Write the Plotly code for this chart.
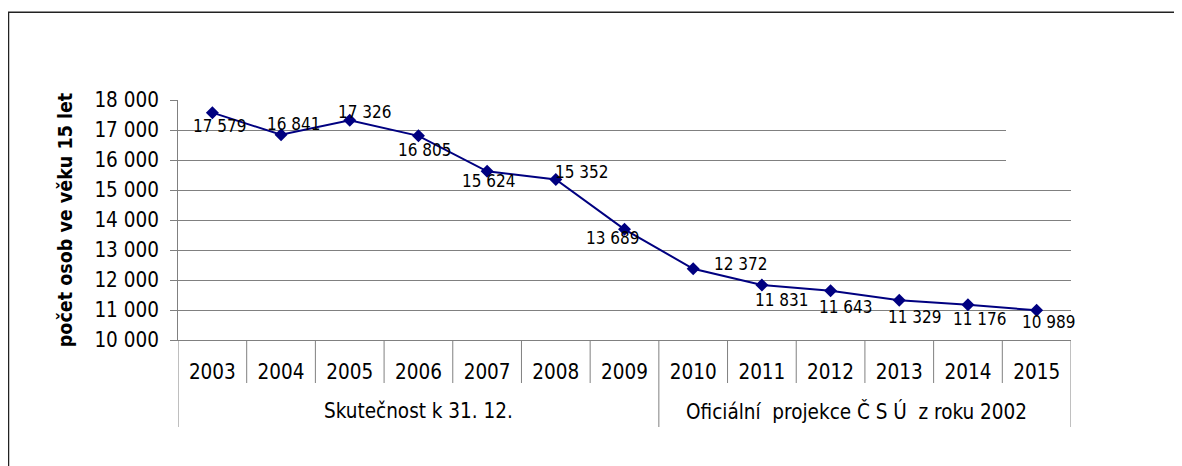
import plotly.graph_objects as go

# ---- data ----
years = ["2003", "2004", "2005", "2006", "2007", "2008", "2009",
         "2010", "2011", "2012", "2013", "2014", "2015"]
values = [17579, 16841, 17326, 16805, 15624, 15352, 13689,
          12372, 11831, 11643, 11329, 11176, 10989]
groups = ["Skutečnost k 31. 12.", "Oficiální\u00a0 projekce Č S Ú\u00a0 z roku 2002"]
group_sizes = [7, 6]
y_title = "počet osob ve věku 15 let"
y_ticks = [10000, 11000, 12000, 13000, 14000, 15000, 16000, 17000, 18000]

# ---- styling / placement (page pixel coordinates; the page body has an 8px margin) ----
label_offsets = [(8, 13), (13, -11), (15, -8), (7, 14), (2, 10), (26, -7), (-12, 9),
                 (48, -5), (20, 15), (15, 16), (16, 17), (12, 14), (12, 12)]
group_xshift = [0, -8]
OFF = 8
W, H = 1182 - OFF, 466 - OFF
PLOT_L, PLOT_R, PLOT_T, PLOT_B = 178, 1071, 100, 340
ML, MR, MT, MB = PLOT_L - OFF, W - (PLOT_R - OFF), PLOT_T - OFF, H - (PLOT_B - OFF)
PW, PH = W - ML - MR, H - MT - MB
FONT = "DejaVu Sans Condensed, Noto Sans, DejaVu Sans, sans-serif"
GRAY = "#808080"
NAVY = "#000080"


def px_x(px):
    return (px - PLOT_L) / PW


def px_y(py):
    return (PLOT_B - py) / PH


def fmt(v):
    return f"{v:,}".replace(",", " ")


idx = list(range(len(years)))

fig = go.Figure()
fig.add_trace(go.Scatter(
    x=years, y=values, mode="lines+markers",
    line=dict(color=NAVY, width=2),
    marker=dict(symbol="diamond", size=10, color=NAVY),
    hoverinfo="skip", showlegend=False,
))

annotations = []
for i, v, (dx, dy) in zip(idx, values, label_offsets):
    annotations.append(dict(
        x=i, y=v, xref="x", yref="y", text=fmt(v), showarrow=False,
        xshift=dx, yshift=-dy, font=dict(family=FONT, size=17, color="black"),
    ))

shapes = []
start = 0
bounds = [-0.5]
for g, n, xs in zip(groups, group_sizes, group_xshift):
    annotations.append(dict(
        x=start + (n - 1) / 2, y=0, xref="x", yref="paper", text=g, showarrow=False,
        yanchor="middle", yshift=-71, xshift=xs,
        font=dict(family=FONT, size=20.5, color="black"),
    ))
    start += n
    bounds.append(start - 0.5)

# group dividers (through both label rows)
for b in bounds:
    shapes.append(dict(type="line", xref="x", yref="paper", x0=b, x1=b,
                       y0=0, y1=px_y(427), line=dict(color=GRAY, width=1)))
# category boundary ticks (through the year row)
for i in idx[1:]:
    b = i - 0.5
    if b in bounds:
        continue
    shapes.append(dict(type="line", xref="x", yref="paper", x0=b, x1=b,
                       y0=0, y1=px_y(383), line=dict(color=GRAY, width=1)))

# white mask where two gridlines are cut short in the original
shapes.append(dict(type="rect", xref="paper", yref="y", x0=px_x(1006), x1=px_x(1078),
                   y0=15300, y1=17600, fillcolor="white", line=dict(width=0),
                   layer="above"))

# outer frame (left + top edges)
lx, ty = px_x(8.5), px_y(12.3)
shapes.append(dict(type="path", xref="paper", yref="paper",
                   path=f"M {lx} {px_y(480)} L {lx} {ty} L {px_x(1200)} {ty}",
                   line=dict(color="#222222", width=1.5)))

fig.update_layout(
    width=W, height=H,
    margin=dict(l=ML, r=MR, t=MT, b=MB, pad=0, autoexpand=False),
    paper_bgcolor="white", plot_bgcolor="white",
    font=dict(family=FONT, color="black"),
    annotations=annotations, shapes=shapes,
    showlegend=False,
)
fig.update_xaxes(
    type="category", range=[-0.5, len(years) - 0.5],
    showline=True, linecolor=GRAY, linewidth=1,
    ticks="", showgrid=False, zeroline=False,
    tickfont=dict(family=FONT, size=20.5, color="black"),
    ticklabelstandoff=13,
)
fig.update_yaxes(
    range=[y_ticks[0], y_ticks[-1]],
    tickvals=y_ticks, ticktext=[fmt(v) for v in y_ticks],
    showgrid=True, gridcolor=GRAY, gridwidth=1,
    showline=True, linecolor=GRAY, linewidth=1,
    ticks="outside", ticklen=7, tickcolor=GRAY, tickwidth=1,
    zeroline=False,
    tickfont=dict(family=FONT, size=20.5, color="black"),
    ticklabelstandoff=7,
    title=dict(text=y_title, standoff=16,
               font=dict(family=FONT, size=19.5, color="black", weight="bold")),
)

fig.write_html("out.html")
